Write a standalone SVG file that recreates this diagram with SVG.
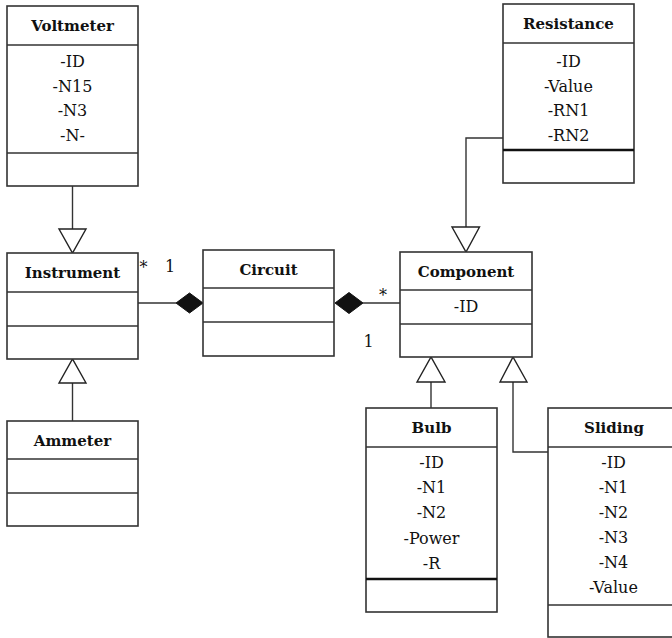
<svg xmlns="http://www.w3.org/2000/svg" width="672" height="638" viewBox="0 0 672 638">
<style>
.box{fill:#fff;stroke:#333;stroke-width:1.6}
.div{stroke:#333;stroke-width:1.6}
.thick{stroke:#111;stroke-width:2.6}
.ln{fill:none;stroke:#333;stroke-width:1.4}
.tri{fill:#fff;stroke:#222;stroke-width:1.4}
.dia{fill:#111;stroke:#111;stroke-width:1}
text{font-family:'DejaVu Serif','Liberation Serif',serif;font-size:16px;fill:#111;text-anchor:middle}
.title{font-weight:bold;font-size:15px}
</style>
<rect width="672" height="638" fill="#fff"/>
<g id="connectors">
  <line class="ln" x1="72.5" y1="186" x2="72.5" y2="229"/>
  <polygon class="tri" points="59,229 86,229 72.5,253"/>
  <line class="ln" x1="72.5" y1="421" x2="72.5" y2="383"/>
  <polygon class="tri" points="59,383 86,383 72.5,359"/>
  <line class="ln" x1="138" y1="303" x2="176" y2="303"/>
  <polygon class="dia" points="176,303 189.5,293 203,303 189.5,313"/>
  <polygon class="dia" points="335,303 349,292.5 363,303 349,313.5"/>
  <line class="ln" x1="363" y1="303" x2="400" y2="303"/>
  <polyline class="ln" points="503,138 466,138 466,227"/>
  <polygon class="tri" points="452,227 479.5,227 466,252"/>
  <line class="ln" x1="431" y1="408" x2="431" y2="382"/>
  <polygon class="tri" points="417,382 445,382 431,357"/>
  <polyline class="ln" points="548,452 513,452 513,382"/>
  <polygon class="tri" points="500,382 527,382 513,357"/>
  <text x="143.5" y="273">*</text>
  <text x="170" y="272">1</text>
  <text x="383" y="301">*</text>
  <text x="368.5" y="347">1</text>
</g>
<g id="voltmeter">
  <rect class="box" x="7" y="6" width="131" height="180"/>
  <line class="div" x1="7" y1="45" x2="138" y2="45"/>
  <line class="div" x1="7" y1="153" x2="138" y2="153"/>
  <text class="title" x="72.5" y="31">Voltmeter</text>
  <text x="72.5" y="67">-ID</text>
  <text x="72.5" y="91.5">-N15</text>
  <text x="72.5" y="116">-N3</text>
  <text x="72.5" y="140.5">-N-</text>
</g>
<g id="resistance">
  <rect class="box" x="503" y="4" width="131" height="179"/>
  <line class="div" x1="503" y1="43" x2="634" y2="43"/>
  <line class="thick" x1="503" y1="150" x2="634" y2="150"/>
  <text class="title" x="568.5" y="29">Resistance</text>
  <text x="568.5" y="67">-ID</text>
  <text x="568.5" y="91.5">-Value</text>
  <text x="568.5" y="116">-RN1</text>
  <text x="568.5" y="140.5">-RN2</text>
</g>
<g id="instrument">
  <rect class="box" x="7" y="253" width="131" height="106"/>
  <line class="div" x1="7" y1="292" x2="138" y2="292"/>
  <line class="div" x1="7" y1="326" x2="138" y2="326"/>
  <text class="title" x="72.5" y="278">Instrument</text>
</g>
<g id="circuit">
  <rect class="box" x="203" y="250" width="131" height="106"/>
  <line class="div" x1="203" y1="288" x2="334" y2="288"/>
  <line class="div" x1="203" y1="322" x2="334" y2="322"/>
  <text class="title" x="268.5" y="275">Circuit</text>
</g>
<g id="component">
  <rect class="box" x="400" y="252" width="132" height="105"/>
  <line class="div" x1="400" y1="290" x2="532" y2="290"/>
  <line class="div" x1="400" y1="324" x2="532" y2="324"/>
  <text class="title" x="466" y="277">Component</text>
  <text x="466" y="312">-ID</text>
</g>
<g id="ammeter">
  <rect class="box" x="7" y="421" width="131" height="105"/>
  <line class="div" x1="7" y1="459" x2="138" y2="459"/>
  <line class="div" x1="7" y1="493" x2="138" y2="493"/>
  <text class="title" x="72.5" y="446">Ammeter</text>
</g>
<g id="bulb">
  <rect class="box" x="366" y="408" width="131" height="204"/>
  <line class="div" x1="366" y1="447" x2="497" y2="447"/>
  <line class="thick" x1="366" y1="579" x2="497" y2="579"/>
  <text class="title" x="431.5" y="433">Bulb</text>
  <text x="431.5" y="468">-ID</text>
  <text x="431.5" y="493">-N1</text>
  <text x="431.5" y="518">-N2</text>
  <text x="431.5" y="544">-Power</text>
  <text x="431.5" y="569">-R</text>
</g>
<g id="sliding">
  <rect class="box" x="548" y="408" width="131" height="229"/>
  <line class="div" x1="548" y1="447" x2="679" y2="447"/>
  <line class="div" x1="548" y1="605" x2="679" y2="605"/>
  <text class="title" x="614" y="433">Sliding</text>
  <text x="613.5" y="468">-ID</text>
  <text x="613.5" y="493">-N1</text>
  <text x="613.5" y="518">-N2</text>
  <text x="613.5" y="543">-N3</text>
  <text x="613.5" y="568">-N4</text>
  <text x="613.5" y="593">-Value</text>
</g>
</svg>
